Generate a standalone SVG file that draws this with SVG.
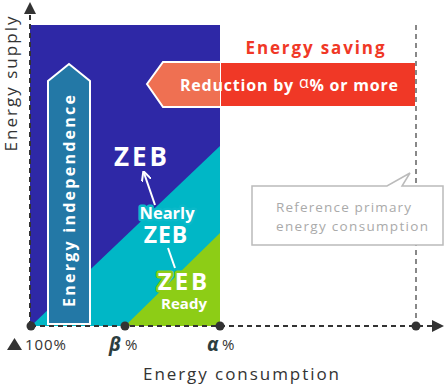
<svg xmlns="http://www.w3.org/2000/svg" width="444" height="385" viewBox="0 0 444 385">
<defs>
<style>
.ax{stroke:#333;stroke-width:2;stroke-dasharray:5 4;fill:none}
.ref{stroke:#888;stroke-width:2;stroke-dasharray:5 4;fill:none}
.dot{fill:#333}
.b{font-family:"Open Sans","Liberation Sans",sans-serif;font-weight:bold;fill:#fff}
.lab{font-family:"Open Sans","Liberation Sans",sans-serif;fill:#333}
.wl{stroke:#fff;stroke-width:2;fill:none}
</style>
<marker id="ah" viewBox="0 0 10 10" refX="5" refY="5" markerWidth="6" markerHeight="6" orient="auto">
<path d="M0,0 L10,5 L0,10 z" fill="#333"/>
</marker>
<marker id="wh" viewBox="0 0 10 10" refX="8" refY="5" markerWidth="5" markerHeight="5" orient="auto">
<path d="M0,0 L10,5 L0,10" fill="none" stroke="#fff" stroke-width="2"/>
</marker>
</defs>
<g id="regions">
<rect x="30" y="25" width="190" height="301" fill="#2e28a6"/>
<polygon points="31,326 220,146 220,326" fill="#00b7c6"/>
<polygon points="125,326 220,233 220,326" fill="#8dcd16"/>
</g>
<g id="independence">
<polygon points="48,324 48,81 69,64 90,81 90,324" fill="#2378a6" stroke="#fff" stroke-width="2"/>
<text class="b" x="0" y="0" font-size="16" text-anchor="middle" transform="translate(74.5,201) rotate(-90)" textLength="212" lengthAdjust="spacing">Energy independence</text>
</g>
<g id="saving">
<text x="315" y="54" font-family="'Open Sans','Liberation Sans',sans-serif" font-weight="bold" font-size="17" fill="#f03826" text-anchor="middle" textLength="139" lengthAdjust="spacing">Energy saving</text>
<polygon points="147,84 163,62 221,62 221,107 163,107" fill="#ef7052" stroke="#fff" stroke-width="2"/>
<rect x="221" y="63" width="194" height="43" fill="#f03826"/>
<text class="b" x="180" y="91" font-size="16" textLength="218" lengthAdjust="spacing">Reduction by <tspan font-weight="normal" dy="-3">α</tspan><tspan dy="3">% or more</tspan></text>
</g>
<g id="connectors">
<line class="ax" x1="30" y1="326" x2="30" y2="8" marker-end="url(#ah)"/>
<line class="ax" x1="31" y1="326" x2="438" y2="326" marker-end="url(#ah)"/>
<line class="ref" x1="416" y1="25" x2="416" y2="326"/>
<line class="wl" x1="155" y1="205" x2="144" y2="173" marker-end="url(#wh)"/>
<line class="wl" x1="168" y1="248" x2="175" y2="268"/>
</g>
<g id="zeb">
<text class="b" x="142" y="166" font-size="26" text-anchor="middle" letter-spacing="3">ZEB</text>
</g>
<g id="nearly-zeb">
<text class="b" x="167" y="219" font-size="16.5" text-anchor="middle" stroke="#0ab9c9" stroke-width="5" stroke-linejoin="round" paint-order="stroke">Nearly</text>
<text class="b" x="166" y="243" font-size="23" text-anchor="middle" letter-spacing="1">ZEB</text>
</g>
<g id="zeb-ready">
<text class="b" x="184" y="290" font-size="24" text-anchor="middle" letter-spacing="3" stroke="#8dcd16" stroke-width="5" stroke-linejoin="round" paint-order="stroke">ZEB</text>
<text class="b" x="184" y="309" font-size="15" text-anchor="middle">Ready</text>
</g>
<g id="callout">
<path d="M252,186 H387 L410,173 L402,186 H443 V245 H252 Z" fill="#fff" stroke="#bbb" stroke-width="1.5"/>
<text x="276" y="212" font-family="'Open Sans','Liberation Sans',sans-serif" font-size="13.5" fill="#aaa" textLength="135" lengthAdjust="spacing">Reference primary</text>
<text x="276" y="231" font-family="'Open Sans','Liberation Sans',sans-serif" font-size="13.5" fill="#aaa" textLength="152" lengthAdjust="spacing">energy consumption</text>
</g>
<g id="points">
<circle class="dot" cx="31" cy="326" r="4.5"/>
<circle class="dot" cx="125" cy="326" r="4.5"/>
<circle class="dot" cx="220" cy="326" r="4.5"/>
<circle class="dot" cx="416" cy="326" r="4.5"/>
</g>
<g id="labels">
<text class="lab" x="0" y="0" font-size="17" text-anchor="middle" transform="translate(17,84) rotate(-90)" textLength="135" lengthAdjust="spacing">Energy supply</text>
<text class="lab" x="143" y="380" font-size="17" textLength="196" lengthAdjust="spacing">Energy consumption</text>
<polygon points="7,350 14.5,338 22,350" fill="#333"/>
<text class="lab" x="25" y="350" font-size="15" textLength="41" lengthAdjust="spacing">100%</text>
<text x="109" y="351" font-family="'Open Sans','Liberation Sans',sans-serif" font-size="19" font-weight="bold" font-style="italic" fill="#2c3e40">β</text>
<text class="lab" x="125" y="350" font-size="15">%</text>
<text x="207" y="351" font-family="'Open Sans','Liberation Sans',sans-serif" font-size="19" font-weight="bold" font-style="italic" fill="#2c3e40">α</text>
<text class="lab" x="222" y="350" font-size="15">%</text>
</g>
</svg>
